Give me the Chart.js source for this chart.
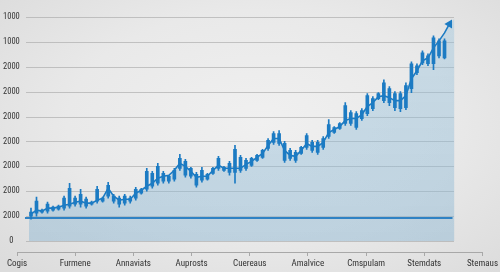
<!DOCTYPE html>
<html>
<head>
<meta charset="utf-8">
<script src="https://cdn.jsdelivr.net/npm/chart.js@4/dist/chart.umd.min.js"></script>
<style>
html,body{margin:0;padding:0;}
body{width:500px;height:272px;overflow:hidden;
background:radial-gradient(ellipse 70% 75% at 52% 45%, #f0f0f0 0%, #e9e9e9 55%, #dcdcdc 100%);}
canvas{display:block;}
</style>
</head>
<body>
<canvas id="c" width="500" height="272"></canvas>
<script>
// ---- data ----
const categories = ['Cogis','Furmene','Annaviats','Auprosts','Cuereaus','Amalvice','Cmspulam','Stemdats','Stemaus'];
const yTickValues = [0,1000,2000,3000,4000,5000,6000,7000,8000,9000];
const yTickLabels = ['0','2000','2000','2000','2000','2000','2000','2000','1000','1000'];

const bodyHigh = [1160,1600,1240,1480,1360,1400,1720,2120,1720,1880,1680,1560,2080,1720,2240,1800,1720,1800,1720,2080,
  2080,2800,2720,3000,2720,2600,2840,3320,3200,2920,2680,2840,2680,2920,3320,2960,3120,3680,3360,3240,
  3320,3440,3640,4040,4320,4320,3920,3640,3560,3760,4240,3960,3960,4120,4680,4560,4720,5440,5160,5120,
  5240,5840,5720,5920,6360,6120,5920,5920,6240,7120,7040,7560,7440,8160,8040,8040];
const bodyLow = [1000,1120,1160,1200,1240,1280,1320,1400,1480,1480,1400,1480,1600,1600,1800,1600,1480,1520,1600,1720,
  1920,2080,2200,2320,2400,2400,2480,2920,2640,2600,2240,2440,2480,2720,2920,2840,2760,2760,2840,2920,
  3040,3240,3360,3720,3960,3920,3240,3320,3240,3520,3760,3640,3560,3760,4200,4360,4520,4720,4720,4560,
  4920,5120,5320,5720,5640,5560,5360,5320,5360,6120,6760,7160,7120,7120,7440,7360];
const wickHigh = [1320,1760,1280,1560,1400,1440,1800,2320,1800,2080,1760,1600,2200,1760,2360,1880,1800,1880,1800,2160,
  2120,2920,2800,3120,2800,2640,2920,3480,3280,2960,2760,2960,2720,2960,3400,3000,3200,3840,3440,3320,
  3360,3480,3680,4120,4400,4440,4000,3720,3640,3800,4320,4040,4040,4200,4880,4600,4760,5560,5240,5200,
  5320,5920,5800,5960,6480,6200,6000,6000,6360,7200,7120,7640,7520,8240,8120,8120];
const wickLow = [880,1000,1120,1120,1200,1240,1240,1320,1400,1360,1320,1440,1520,1560,1720,1520,1360,1440,1520,1640,
  1880,2000,2120,2240,2320,2320,2400,2840,2560,2520,2160,2360,2440,2680,2840,2800,2640,2320,2760,2840,
  3000,3200,3320,3640,3880,3840,3160,3240,3160,3480,3680,3560,3480,3680,4120,4320,4480,4640,4640,4480,
  4840,5040,5240,5680,5560,5440,5240,5200,5280,5960,6680,7080,7040,6880,7360,7320];
const trend = [1080,1240,1200,1320,1320,1360,1440,1480,1560,1600,1520,1520,1640,1720,2120,1800,1640,1680,1680,1920,
  2040,2200,2320,2520,2600,2640,2840,3120,3000,2800,2560,2600,2600,2840,3040,2920,2920,2920,2920,3080,
  3200,3360,3520,3840,4120,4120,3640,3440,3400,3640,3920,3800,3800,3960,4360,4480,4600,4840,4920,4920,
  5080,5400,5560,5800,5840,5760,5640,5640,5840,6520,6840,7240,7360,7760,8040,8360];
const trendEnd = {x: 75.9, y: 8720};
const areaStart = {x: -0.36, y: 1000};
const areaEnd = {x: 76.8, y: 8960};
const baselineValue = 920;
const baselineFrom = -1.09, baselineTo = 76.45;

// ---- build datasets ----
const idx = bodyHigh.map((_, i) => i);
const bodies = idx.map(i => ({x: i, y: [bodyLow[i], bodyHigh[i]]}));
const wicks = idx.map(i => ({x: i, y: [wickLow[i], wickHigh[i]]}));
const trendPts = idx.map(i => ({x: i, y: trend[i]})).concat([trendEnd]);
const areaPts = [areaStart].concat(idx.map(i => ({x: i, y: trend[i]})), [areaEnd]);
const basePts = [{x: baselineFrom, y: baselineValue}, {x: baselineTo, y: baselineValue}];

const BLUE = '#1c7bc3';
const FONT = "'Liberation Sans Narrow', 'Roboto Condensed', Roboto, sans-serif";

const gridPlugin = {
  id: 'grid',
  beforeDatasetsDraw(chart) {
    const {ctx} = chart;
    const ys = chart.scales.y, xi = chart.scales.xi;
    const x0 = Math.round(xi.getPixelForValue(-0.9)), x1 = Math.round(xi.getPixelForValue(76.8));
    ctx.save();
    ctx.strokeStyle = 'rgba(165,165,165,0.6)';
    ctx.lineWidth = 1;
    yTickValues.forEach(v => {
      const y = Math.round(ys.getPixelForValue(v)) + 0.5;
      ctx.beginPath(); ctx.moveTo(x0, y); ctx.lineTo(x1, y); ctx.stroke();
    });
    ctx.restore();
  }
};

new Chart(document.getElementById('c'), {
  type: 'bar',
  data: {
    datasets: [
      {type: 'bar', label: 'body', data: bodies, xAxisID: 'xi', yAxisID: 'y', backgroundColor: BLUE,
       barThickness: 3, grouped: false, order: 1},
      {type: 'bar', label: 'wick', data: wicks, xAxisID: 'xi', yAxisID: 'y', backgroundColor: BLUE,
       barThickness: 1, grouped: false, order: 2},
      {type: 'line', label: 'trend', data: trendPts, xAxisID: 'xi', yAxisID: 'y', borderColor: BLUE,
       borderWidth: 1.6, tension: 0, fill: false, clip: false,
       pointRadius: c => c.dataIndex === trendPts.length - 1 ? 3.5 : 0,
       pointStyle: 'triangle', rotation: 30, pointBackgroundColor: BLUE, pointBorderColor: BLUE, order: 3},
      {type: 'line', label: 'base', data: basePts, xAxisID: 'xi', yAxisID: 'y', borderColor: '#2f82c4',
       borderWidth: 2, pointRadius: 0, fill: false, order: 4},
      {type: 'line', label: 'area', data: areaPts, xAxisID: 'xi', yAxisID: 'y', borderWidth: 0,
       borderColor: 'rgba(0,0,0,0)', pointRadius: 0, fill: {value: 0}, order: 5,
       backgroundColor: c => {
         const a = c.chart.chartArea; if (!a) return 'rgba(140,185,215,0.4)';
         const g = c.chart.ctx.createLinearGradient(0, a.top, 0, a.bottom);
         g.addColorStop(0, 'rgba(150,195,222,0.38)');
         g.addColorStop(1, 'rgba(135,180,210,0.45)');
         return g;
       }}
    ]
  },
  options: {
    responsive: false,
    animation: false,
    layout: {padding: {top: 17, right: 17, left: 0, bottom: 0}},
    plugins: {legend: {display: false}, tooltip: {enabled: false}},
    scales: {
      x: {
        type: 'linear', position: 'bottom', min: 0, max: 8, offset: false,
        afterBuildTicks: s => { s.ticks = categories.map((_, i) => ({value: i})); },
        afterFit: s => { s.height = 20; },
        ticks: {callback: (v) => categories[v], color: '#333', font: {family: FONT, size: 9},
                padding: 2, maxRotation: 0, autoSkip: false},
        grid: {display: true, offset: false, drawOnChartArea: false, drawTicks: true, tickLength: 4, color: '#a8a8a8'},
        border: {display: true, color: '#a8a8a8', width: 1}
      },
      xi: {type: 'linear', display: false, offset: false, min: -2.536, max: 81.88},
      y: {
        type: 'linear', position: 'left', min: -442, max: 9000,
        afterBuildTicks: s => { s.ticks = yTickValues.map(v => ({value: v})); },
        afterFit: s => { s.width = 17; },
        ticks: {callback: (v) => yTickLabels[yTickValues.indexOf(v)], color: '#333',
                font: {family: FONT, size: 8.5}, mirror: true, crossAlign: 'center', padding: -14},
        grid: {display: false, drawTicks: false},
        border: {display: false}
      }
    }
  },
  plugins: [gridPlugin]
});
</script>
</body>
</html>
